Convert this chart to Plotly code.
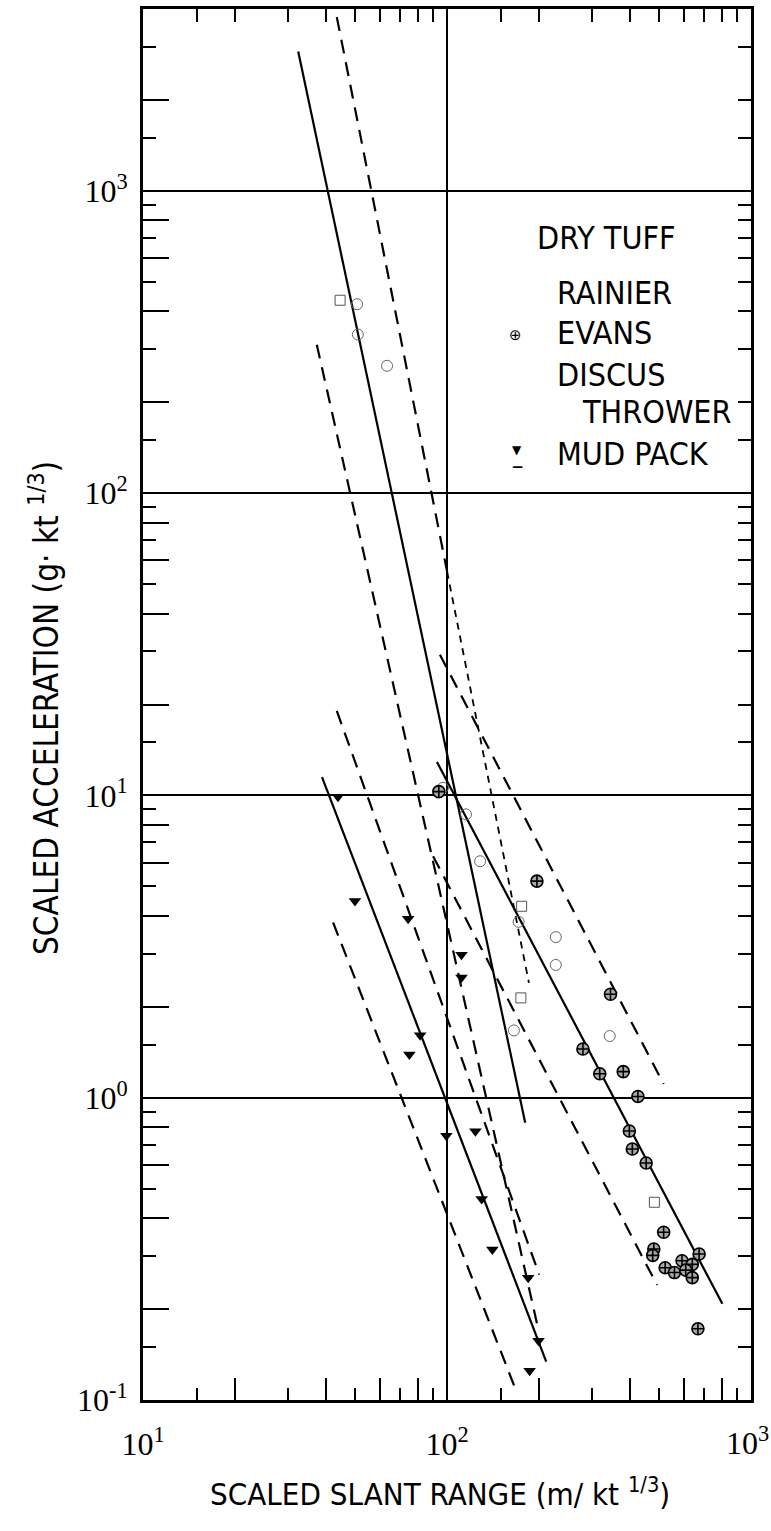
import numpy as np
import plotly.graph_objects as go

# ---------------- data ----------------
rainier_x = [50.6, 50.9, 63.5, 97, 115.5, 128.5, 172, 228, 228, 166, 343]
rainier_y = [422, 335, 264, 10.6, 8.66, 6.06, 3.82, 3.4, 2.75, 1.67, 1.60]

evans_x = [94, 197.6, 345, 280, 380, 318, 424.6, 398, 407, 452, 516, 479, 475,
           675, 593, 641, 522, 560, 610, 641, 669]
evans_y = [10.3, 5.21, 2.20, 1.45, 1.22, 1.20, 1.01, 0.776, 0.677, 0.608, 0.359,
           0.316, 0.301, 0.304, 0.289, 0.281, 0.274, 0.264, 0.269, 0.254, 0.172]

discus_x = [44.5, 176, 175, 481]
discus_y = [435, 4.3, 2.14, 0.451]

mud_x = [43.8, 49.8, 74.5, 81.6, 75.2, 111.6, 111.6, 99.5, 124, 130, 141, 185, 200, 187]
mud_y = [9.9, 4.48, 3.91, 1.61, 1.39, 2.97, 2.50, 0.748, 0.774, 0.462, 0.315, 0.254, 0.157, 0.125]

# fitted lines (solid) and bounds (dashed): end points
rainier_fit_x = [32.4, 180.8]
rainier_fit_y = [2894, 0.827]
rainier_hi_x = [43.4, 100.1]          # long dashes
rainier_hi_y = [3760, 55]
rainier_hi2_x = [100.1, 186]          # short dashes
rainier_hi2_y = [55, 2.4]
rainier_lo_x = [37.3, 200]
rainier_lo_y = [310, 0.17]

evans_fit_x = [92.7, 805]
evans_fit_y = [12.9, 0.208]
evans_hi_x = [94.8, 516]
evans_hi_y = [29.2, 1.11]
evans_lo_x = [90, 491]
evans_lo_y = [6.3, 0.24]

mud_fit_x = [38.8, 212]
mud_fit_y = [11.5, 0.134]
mud_hi_x = [43.4, 201]
mud_hi_y = [19.05, 0.26]
mud_lo_x = [42.2, 169]
mud_lo_y = [3.8, 0.107]

# axis ticks
x_labels_vals = [10, 100]
x_labels_text = ["10<sup>1</sup>", "10<sup>2</sup>"]
x_last_label = "10<sup>3</sup>"
x_grid = [10, 100, 1000]
x_long = [20, 40, 60, 80, 200, 400, 600, 800]
x_short = [15, 30, 50, 70, 90, 150, 300, 500, 700, 900]
y_labels_vals = [0.1, 1, 10, 100, 1000]
y_labels_text = ["10<sup>-1</sup>", "10<sup>0</sup>", "10<sup>1</sup>", "10<sup>2</sup>", "10<sup>3</sup>"]
y_long = [0.2, 0.4, 0.6, 0.8, 2, 4, 6, 8, 20, 40, 60, 80, 200, 400, 600, 800, 2000]
y_short = [0.15, 0.3, 0.5, 0.7, 0.9, 1.5, 3, 5, 7, 9, 15, 30, 50, 70, 90, 150, 300, 500, 700, 900, 1500, 3000]

SANS = "Liberation Sans Narrow, Arial Narrow, DejaVu Sans Condensed, Liberation Sans, sans-serif"
SERIF = "Liberation Serif, DejaVu Serif, serif"

fig = go.Figure()

DASH = "14px,9px"
FINE = "7px,6px"


def add_line(xs, ys, dash=None, width=2.2):
    fig.add_trace(go.Scatter(x=xs, y=ys, mode="lines",
                             line=dict(color="black", width=width, dash=dash or "solid"),
                             showlegend=False, hoverinfo="skip"))


add_line(rainier_fit_x, rainier_fit_y)
add_line(rainier_hi_x, rainier_hi_y, DASH)
add_line(rainier_hi2_x, rainier_hi2_y, FINE, 1.8)
add_line(rainier_lo_x, rainier_lo_y, DASH)
add_line(evans_fit_x, evans_fit_y)
add_line(evans_hi_x, evans_hi_y, DASH)
add_line(evans_lo_x, evans_lo_y, DASH)
add_line(mud_fit_x, mud_fit_y)
add_line(mud_hi_x, mud_hi_y, DASH)
add_line(mud_lo_x, mud_lo_y, DASH)

fig.add_trace(go.Scatter(x=rainier_x, y=rainier_y, mode="markers", name="RAINIER",
                         marker=dict(symbol="circle-open", size=11, color="#666",
                                     line=dict(width=1, color="#666"))))
fig.add_trace(go.Scatter(x=discus_x, y=discus_y, mode="markers", name="DISCUS THROWER",
                         marker=dict(symbol="square-open", size=10, color="#555",
                                     line=dict(width=1, color="#555"))))
fig.add_trace(go.Scatter(x=evans_x, y=evans_y, mode="markers", name="EVANS",
                         marker=dict(symbol="circle-cross", size=12, color="#a8a8a8",
                                     line=dict(width=1.6, color="black"))))
fig.add_trace(go.Scatter(x=mud_x, y=mud_y, mode="markers", name="MUD PACK",
                         marker=dict(symbol="triangle-down", size=11, color="black")))

# dummy traces for the tick-only overlay axes
fig.add_trace(go.Scatter(x=[None], y=[None], xaxis="x2", yaxis="y2", showlegend=False, hoverinfo="skip"))
fig.add_trace(go.Scatter(x=[None], y=[None], xaxis="x3", yaxis="y3", showlegend=False, hoverinfo="skip"))

XR = [1, 3]
YR = [-1, np.log10(4000)]

fig.update_layout(
    width=771, height=1531,
    margin=dict(l=143, r=20, t=9, b=131, autoexpand=False),
    paper_bgcolor="white", plot_bgcolor="white",
    showlegend=False,
    xaxis=dict(type="log", range=XR, tickmode="array", tickvals=x_labels_vals, ticktext=x_labels_text,
               ticks="", showgrid=False,
               showline=True, linecolor="black", linewidth=3, zeroline=False,
               tickfont=dict(family=SERIF, size=32, color="black"), ticklabelstandoff=14),
    yaxis=dict(type="log", range=YR, tickmode="array", tickvals=y_labels_vals, ticktext=y_labels_text,
               ticks="", showgrid=True, gridcolor="black", gridwidth=2.2,
               showline=True, linecolor="black", linewidth=3, zeroline=False,
               tickfont=dict(family=SERIF, size=32, color="black"), ticklabelstandoff=6),
    xaxis2=dict(type="log", range=XR, overlaying="x", anchor="y", side="bottom",
                tickmode="array", tickvals=x_long, ticks="inside", ticklen=22, tickwidth=2,
                tickcolor="black", showticklabels=False, showgrid=False, showline=False, zeroline=False,
                minor=dict(tickmode="array", tickvals=x_short, ticks="inside", ticklen=12,
                           tickwidth=2, tickcolor="black", showgrid=False)),
    yaxis2=dict(type="log", range=YR, overlaying="y", anchor="x", side="left",
                tickmode="array", tickvals=y_long, ticks="inside", ticklen=26, tickwidth=2,
                tickcolor="black", showticklabels=False, showgrid=False, showline=False, zeroline=False,
                minor=dict(tickmode="array", tickvals=y_short, ticks="inside", ticklen=13,
                           tickwidth=2, tickcolor="black", showgrid=False)),
    xaxis3=dict(type="log", range=XR, overlaying="x", anchor="y", side="top",
                tickmode="array", tickvals=x_long + x_short, ticks="inside", ticklen=13, tickwidth=2,
                tickcolor="black", showticklabels=False,
                showgrid=False, minor=dict(tickmode="array", tickvals=x_grid, showgrid=True,
                                          gridcolor="black", gridwidth=2.2, ticks=""),
                showline=True, linecolor="black", linewidth=3, zeroline=False),
    yaxis3=dict(type="log", range=YR, overlaying="y", anchor="x", side="right",
                tickmode="array", tickvals=y_long + y_short, ticks="inside", ticklen=13, tickwidth=2,
                tickcolor="black", showticklabels=False, showgrid=False,
                showline=True, linecolor="black", linewidth=3, zeroline=False),
)

PW, PH, L, T = 608.0, 1391.0, 143.0, 9.0


def px(X):
    return (X - L) / PW


def py(Y):
    return (T + PH - Y) / PH


annos = [
    dict(text=x_last_label, x=px(771), y=py(1419), xanchor="right", yanchor="top",
         font=dict(family=SERIF, size=32, color="black")),
    dict(text="SCALED ACCELERATION (g· kt <sup>1/3</sup>)", x=px(44), y=py(708), textangle=-90,
         xanchor="center", yanchor="middle", font=dict(family=SANS, size=33, color="black")),
    dict(text="SCALED SLANT RANGE (m/ kt <sup>1/3</sup>)", x=px(440), y=py(1492),
         xanchor="center", yanchor="middle", font=dict(family=SANS, size=31, color="black")),
    dict(text="DRY TUFF", x=px(535), y=py(238), xanchor="left", yanchor="middle",
         font=dict(family=SANS, size=32, color="black")),
    dict(text="RAINIER", x=px(555), y=py(293), xanchor="left", yanchor="middle",
         font=dict(family=SANS, size=32, color="black")),
    dict(text="EVANS", x=px(555), y=py(333), xanchor="left", yanchor="middle",
         font=dict(family=SANS, size=32, color="black")),
    dict(text="DISCUS", x=px(555), y=py(375), xanchor="left", yanchor="middle",
         font=dict(family=SANS, size=32, color="black")),
    dict(text="THROWER", x=px(580), y=py(412), xanchor="left", yanchor="middle",
         font=dict(family=SANS, size=32, color="black")),
    dict(text="MUD PACK", x=px(555), y=py(454), xanchor="left", yanchor="middle",
         font=dict(family=SANS, size=32, color="black")),
    dict(text="⊕", x=px(515), y=py(335), xanchor="center", yanchor="middle",
         font=dict(family="DejaVu Sans", size=15, color="black")),
    dict(text="▼", x=px(517), y=py(450), xanchor="center", yanchor="middle",
         font=dict(family="DejaVu Sans", size=12, color="black")),
    dict(text="▁", x=px(517), y=py(461), xanchor="center", yanchor="middle",
         font=dict(family="DejaVu Sans", size=12, color="black")),
]
for a in annos:
    a.update(xref="paper", yref="paper", showarrow=False)
fig.update_layout(annotations=annos)

fig.write_html("out.html")
